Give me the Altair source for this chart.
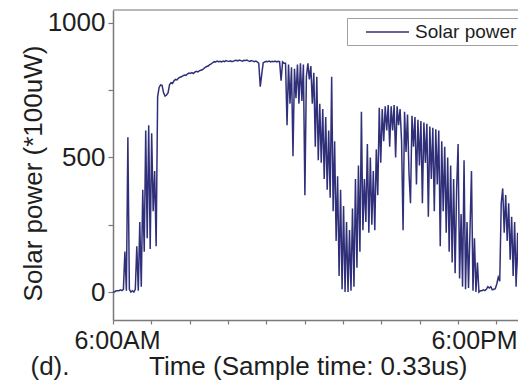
import altair as alt
import pandas as pd

# Sampled solar power (*100uW), one sample every 3 minutes starting at 6:00AM
start_hour = 6.0
step_hours = 0.05
power = [
    0, 0, 5, 5, 5, 8, 5, 10, 150, 5,
    575, 10, 0, 5, 0, 10, 170, 5, 260, 20,
    380, 150, 600, 200, 620, 160, 590, 300, 450, 170,
    725, 760, 770, 768, 740, 728, 732, 740, 770, 778,
    775, 785, 790, 788, 795, 798, 800, 803, 806, 805,
    810, 814, 812, 815, 812, 817, 820, 818, 822, 824,
    826, 830, 835, 838, 840, 845, 848, 852, 856, 855,
    858, 856, 857, 855, 858, 856, 860, 858, 857, 859,
    856, 858, 860, 861, 859, 862, 860, 858, 861, 860,
    862, 859, 857, 860, 858, 856, 858, 855, 850, 763,
    810, 852, 855, 857, 856, 858, 855, 857, 856, 858,
    855, 857, 856, 785, 855, 850, 850, 620, 845, 700,
    835, 505, 830, 720, 845, 700, 850, 710, 845, 360,
    800, 850, 790, 840, 700, 815, 540, 800, 490, 700,
    480, 680, 420, 650, 380, 600, 350, 800, 300, 560,
    190, 430, 60, 380, 10, 320, 0, 260, 0, 230,
    5, 310, 20, 420, 90, 470, 150, 670, 230, 420,
    260, 550, 220, 500, 250, 450, 230, 530, 360, 685,
    480, 680, 560, 690, 600, 695, 540, 690, 600, 695,
    500, 690, 620, 680, 560, 230, 670, 520, 660, 440,
    330, 655, 540, 650, 400, 640, 470, 635, 330, 630,
    480, 625, 280, 615, 420, 610, 300, 605, 400, 600,
    170, 560, 300, 540, 220, 500, 150, 470, 110, 420,
    70, 380, 550, 50, 290, 20, 490, 10, 260, 15,
    230, 450, 5, 200, 0, 110, 0, 5, 5, 8,
    5, 10, 20, 15, 20, 8, 10, 12, 30, 55,
    40, 330, 385, 220, 360, 190, 330, 120, 280, 60,
    260, 20, 220, 5, 200, 0, 240, 10, 150, 0,
]
series_name = "Solar power"

x_tick_hours = [6.0, 7.289, 8.578, 9.867, 11.156, 12.445, 13.734,
                15.023, 16.312, 17.601, 18.890]
x_label_hours = [6.0, 18.0]
x_label_text = ["6:00AM", "6:00PM"]
y_ticks = [0, 250, 500, 750, 1000]
y_labels = [0, 500, 1000]

df = pd.DataFrame({
    "hour": [start_hour + i * step_hours for i in range(len(power))],
    "power": power,
    "series": [series_name] * len(power),
})

FONT = "Liberation Sans"
LINE_COLOR = "#30307a"
TEXT_COLOR = "#1e1e1e"
AXIS_COLOR = "#7a7a7a"
FRAME_COLOR = "#a0a0a0"

PLOT_W, PLOT_H = 405, 310

x_values = sorted(x_tick_hours + [h for h in x_label_hours if h not in x_tick_hours])
label_expr = " : ".join(
    f"datum.value == {h} ? '{t}'" for h, t in zip(x_label_hours, x_label_text)
) + " : ''"
tick_color = {
    "condition": {
        "test": " || ".join(f"datum.value == {h}" for h in x_label_hours if h not in x_tick_hours),
        "value": "transparent",
    },
    "value": AXIS_COLOR,
}

x_axis = alt.Axis(
    values=x_values,
    labelExpr=label_expr,
    labelFont=FONT, labelFontSize=25, labelColor=TEXT_COLOR,
    labelOverlap=False, labelFlush=False, labelOffset=4, labelPadding=4,
    tickSize=4, tickWidth=1.2, tickColor=tick_color,
    domainColor=AXIS_COLOR, domainWidth=1.5,
    grid=False,
    title="(d)." + "\u00a0" * 11 + "Time (Sample time: 0.33us)",
    titleFont=FONT, titleFontSize=26, titleFontWeight="normal", titleColor=TEXT_COLOR,
    titleAlign="left", titleAnchor="start", titleBaseline="alphabetic",
    titleX=-83, titleY=54,
)

y_axis = alt.Axis(
    values=y_ticks,
    format="d",
    labelExpr=" || ".join(f"datum.value == {v}" for v in y_labels) + " ? datum.label : ''",
    labelFont=FONT, labelFontSize=26, labelColor=TEXT_COLOR, labelPadding=3,
    labelOverlap=False, labelFlush=False, labelBaseline="middle",
    tickSize=5, tickWidth=1.2, tickColor=AXIS_COLOR,
    domainColor=AXIS_COLOR, domainWidth=1.5,
    grid=False,
    title="Solar power (*100uW)",
    titleFont=FONT, titleFontSize=26, titleFontWeight="normal", titleColor=TEXT_COLOR,
    titleAngle=-90, titleAlign="center", titleBaseline="middle",
    titleX=-80, titleY=163,
)

legend = alt.Legend(
    title=None, orient="none", legendX=234, legendY=8,
    symbolType="M-2.15,0H2.15", symbolSize=400, symbolStrokeWidth=1.5,
    symbolOffset=26.5, labelOffset=16.5,
    labelFont=FONT, labelFontSize=19, labelColor=TEXT_COLOR,
    strokeColor=FRAME_COLOR, fillColor="white", padding=3,
)

line = alt.Chart(df).mark_line(strokeWidth=1.5, clip=True).encode(
    x=alt.X("hour:Q", scale=alt.Scale(domain=[6.0, 6.0 + PLOT_W / 29.75], nice=False, zero=False), axis=x_axis),
    y=alt.Y("power:Q", scale=alt.Scale(domain=[-104, 1048], nice=False, zero=False), axis=y_axis),
    color=alt.Color("series:N", scale=alt.Scale(range=[LINE_COLOR]), legend=legend),
)

top_frame = alt.Chart(pd.DataFrame({"edge": ["top"]})).mark_rule(
    color=FRAME_COLOR, strokeWidth=1.5
).encode(y=alt.value(0))

chart = alt.layer(line, top_frame).properties(
    width=PLOT_W, height=PLOT_H,
    autosize=alt.AutoSizeParams(type="none"),
    padding={"left": 105, "top": 2, "right": 0, "bottom": 60},
    background="white",
).configure_view(
    stroke=None,
)

chart.save("out.html", embed_options={"renderer": "svg", "actions": False})
